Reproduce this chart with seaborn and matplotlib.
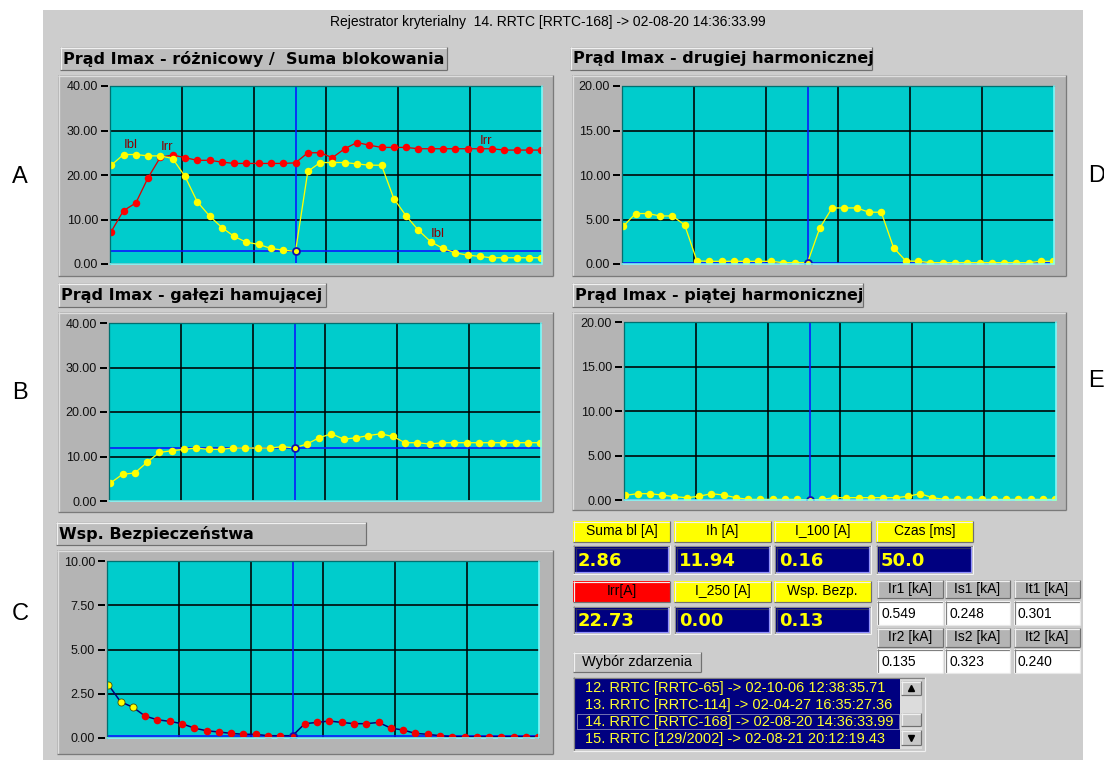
import matplotlib
matplotlib.use("Agg")
import matplotlib.pyplot as plt
from matplotlib.patches import Rectangle
import seaborn as sns

# ---------------------------------------------------------------- data
sample = list(range(36))
CURSOR = 15

suma_bl = [22.2, 24.6, 24.6, 24.3, 24.3, 23.7, 19.7, 14.0, 10.8, 8.2, 6.2, 4.9,
           4.4, 3.5, 3.1, 2.86, 20.8, 22.8, 22.8, 22.8, 22.5, 22.2, 22.2, 14.7,
           10.8, 7.6, 5.0, 3.5, 2.5, 2.0, 1.7, 1.4, 1.4, 1.4, 1.4, 1.4]
irr = [7.3, 12.0, 13.7, 19.4, 24.0, 24.5, 23.9, 23.3, 23.3, 22.9, 22.6, 22.6,
       22.6, 22.6, 22.6, 22.73, 25.0, 25.0, 23.9, 25.9, 27.3, 26.7, 26.2, 26.2,
       26.2, 25.9, 25.9, 25.9, 25.9, 25.9, 25.9, 25.9, 25.6, 25.6, 25.6, 25.6]
ih = [4.0, 6.0, 6.3, 8.7, 10.9, 11.3, 11.6, 11.9, 11.6, 11.6, 11.9, 11.9,
      11.9, 11.9, 12.2, 11.94, 12.8, 14.2, 15.1, 13.9, 14.2, 14.7, 15.1, 14.5,
      13.1, 13.1, 12.8, 13.1, 13.1, 13.1, 13.1, 13.1, 13.1, 13.1, 13.1, 13.1]
wsp = [3.02, 2.05, 1.74, 1.24, 1.03, 0.94, 0.81, 0.56, 0.41, 0.34, 0.26, 0.21,
       0.21, 0.13, 0.13, 0.13, 0.81, 0.88, 0.96, 0.88, 0.81, 0.81, 0.88, 0.56,
       0.45, 0.26, 0.21, 0.13, 0.08, 0.08, 0.08, 0.08, 0.08, 0.08, 0.08, 0.08]
h2 = [4.24, 5.67, 5.67, 5.40, 5.40, 4.39, 0.34, 0.30, 0.30, 0.30, 0.30, 0.30,
      0.30, 0.15, 0.15, 0.16, 4.05, 6.30, 6.30, 6.30, 5.82, 5.82, 1.84, 0.34,
      0.30, 0.15, 0.15, 0.15, 0.15, 0.15, 0.15, 0.15, 0.15, 0.15, 0.30, 0.30]
h5 = [0.52, 0.71, 0.71, 0.56, 0.37, 0.26, 0.41, 0.71, 0.56, 0.26, 0.07, 0.07,
      0.07, 0.07, 0.07, 0.00, 0.07, 0.26, 0.26, 0.26, 0.26, 0.26, 0.26, 0.41,
      0.71, 0.26, 0.07, 0.07, 0.07, 0.07, 0.07, 0.07, 0.07, 0.07, 0.07, 0.07]
WSP_LIMIT = 1.5
czas_ms = 50.0

phase1_labels = ["Ir1 [kA]", "Is1 [kA]", "It1 [kA]"]
phase1_values = [0.549, 0.248, 0.301]
phase2_labels = ["Ir2 [kA]", "Is2 [kA]", "It2 [kA]"]
phase2_values = [0.135, 0.323, 0.240]

events = ["12. RRTC [RRTC-65] -> 02-10-06 12:38:35.71",
          "13. RRTC [RRTC-114] -> 02-04-27 16:35:27.36",
          "14. RRTC [RRTC-168] -> 02-08-20 14:36:33.99",
          "15. RRTC [129/2002] -> 02-08-21 20:12:19.43"]
SELECTED = 2

# ---------------------------------------------------------------- style
W, H, DPI = 1104, 760, 100
PX = 72.0 / DPI  # one pixel in points

sns.set_theme(style="white")
plt.rcParams["font.family"] = ["Liberation Sans", "DejaVu Sans"]

WIN = "#cdcdcd"
FRAME = "#b4b4b4"
CYAN = "#00cccc"
NAVY = "#000080"
YEL = "#ffff00"
RED = "#ff0000"
BLUE = "#0a14ff"

fig = plt.figure(figsize=(W / DPI, H / DPI), dpi=DPI, facecolor="white")
ui = fig.add_axes([0, 0, 1, 1])
ui.set_xlim(0, W)
ui.set_ylim(H, 0)
ui.axis("off")


def fig_rect(x0, y0, x1, y1):
    return [x0 / W, 1 - y1 / H, (x1 - x0) / W, (y1 - y0) / H]


def box(x0, y0, x1, y1, face, z=1):
    ui.add_patch(Rectangle((x0, y0), x1 - x0, y1 - y0, facecolor=face,
                           edgecolor="none", linewidth=0, zorder=z))


def bevel(x0, y0, x1, y1, light, dark, w=1.0, z=2):
    kw = dict(lw=w * PX, zorder=z, solid_capstyle="butt")
    ui.plot([x0, x1], [y0 + 0.5, y0 + 0.5], color=light, **kw)
    ui.plot([x0 + 0.5, x0 + 0.5], [y0, y1], color=light, **kw)
    ui.plot([x0, x1], [y1 - 0.5, y1 - 0.5], color=dark, **kw)
    ui.plot([x1 - 0.5, x1 - 0.5], [y0, y1], color=dark, **kw)


def raised(x0, y0, x1, y1, face, z=1):
    box(x0, y0, x1, y1, face, z)
    bevel(x0, y0, x1, y1, "#f0f0f0", "#707070", 1.2, z + 1)


def label(x, y, s, size=10, color="black", ha="left", weight="normal", z=5, **kw):
    ui.text(x, y, s, fontsize=size, color=color, ha=ha, va="center",
            fontweight=weight, zorder=z, **kw)


# window background and side letters
box(43, 10, 1083, 760, WIN, 0)
for ch, x, y in [("A", 20, 177), ("B", 20, 393), ("C", 20, 614),
                 ("D", 1088, 176), ("E", 1088, 381)]:
    label(x, y, ch, size=17, ha="center" if x < 500 else "left")

label(548, 22, f"Rejestrator kryterialny  {events[SELECTED]}", size=10, ha="center",
      family=["Liberation Sans Narrow", "Liberation Sans", "DejaVu Sans"])

# ---------------------------------------------------------------- chart panels
XL = (-0.1, 35.06)


def panel(title, title_box, frame, plot, ymax, step):
    tx0, ty0, tx1, ty1 = title_box
    raised(tx0, ty0, tx1, ty1, "#bdbdbd")
    label(tx0 + 3, (ty0 + ty1) / 2 + 0.5, title, size=11.5, weight="bold",
          family=["DejaVu Sans"])
    fx0, fy0, fx1, fy1 = frame
    box(fx0, fy0, fx1, fy1, FRAME)
    bevel(fx0, fy0, fx1, fy1, "#dedede", "#7a7a7a", 1.3)

    px0, py0, px1, py1 = plot
    ax = fig.add_axes(fig_rect(*plot))
    ax.set_facecolor(CYAN)
    ax.set_xlim(*XL)
    ax.set_ylim(0, ymax)
    yt = [k * step for k in range(5)]
    ax.set_yticks(yt)
    ax.set_yticklabels([f"{v:.2f}" for v in yt])
    ax.set_xticks([XL[0] + k * (XL[1] - XL[0]) / 6 for k in range(1, 6)])
    ax.set_xticklabels([])
    ax.tick_params(axis="x", length=0, bottom=False)
    ax.tick_params(axis="y", length=0, pad=12 * PX, labelsize=9, labelcolor="#101010")
    ax.grid(True, color="black", lw=1.6 * PX)
    ax.set_axisbelow(True)
    for s in ax.spines.values():
        s.set_visible(False)
    ax.set_xlabel("")
    ax.set_ylabel("")
    # short dashes beside the value labels
    for v in yt:
        ypix = py1 - (v / ymax) * (py1 - py0)
        ui.plot([px0 - 9.5, px0 - 2.5], [ypix, ypix], color="black", lw=2.0 * PX,
                zorder=20, solid_capstyle="butt")
    tr = ax.transAxes
    ax.plot([0, 1], [1, 1], color="#007070", lw=1.3 * PX, transform=tr, clip_on=False, zorder=6)
    ax.plot([0, 0], [0, 1], color="#007070", lw=1.3 * PX, transform=tr, clip_on=False, zorder=6)
    ax.plot([0, 1], [0, 0], color="#7ffcfc", lw=1.6 * PX, transform=tr, clip_on=False, zorder=6)
    ax.plot([1, 1], [0, 1], color="#7ffcfc", lw=1.6 * PX, transform=tr, clip_on=False, zorder=6)
    return ax


def cursor(ax, value):
    ax.axvline(CURSOR, color=BLUE, lw=1.6 * PX, zorder=2)
    ax.axhline(value, color=BLUE, lw=1.6 * PX, zorder=2)


def series(ax, values, color, lcolor=None):
    sns.lineplot(x=sample, y=values, ax=ax, color=lcolor or color, lw=1.3 * PX,
                 marker="o", markersize=5.4, markeredgewidth=0,
                 markerfacecolor=color, zorder=3)


def cursor_dot(ax, value, face=YEL):
    ax.plot([CURSOR], [value], marker="o", ms=5, mfc=face, mec="#1010b0",
            mew=1.3, zorder=5, ls="none")


# A: differential current / blocking sum
axA = panel("Prąd Imax - różnicowy /  Suma blokowania", (60, 47, 447, 70),
            (58, 75, 553, 276), (110, 86, 542, 264), 40, 10)
cursor(axA, suma_bl[CURSOR])
series(axA, irr, RED, "#e00000")
series(axA, suma_bl, YEL)
cursor_dot(axA, suma_bl[CURSOR])
for txt, x, y in [("Ibl", 1.6, 26.7), ("Irr", 4.5, 26.2), ("Irr", 30.5, 27.7), ("Ibl", 26.6, 6.8)]:
    axA.text(x, y, txt, color="#8b0000", fontsize=9.5, ha="center", va="center", zorder=6)

# B: restraining current
axB = panel("Prąd Imax - gałęzi hamującej", (58, 283, 326, 307),
            (58, 312, 553, 512), (109, 323, 541, 501), 40, 10)
cursor(axB, ih[CURSOR])
series(axB, ih, YEL)
cursor_dot(axB, ih[CURSOR])

# C: safety factor
axC = panel("Wsp. Bezpieczeństwa", (56, 522, 366, 545),
            (57, 550, 553, 754), (107, 561, 539, 738), 10, 2.5)
cursor(axC, wsp[CURSOR])
sns.lineplot(x=sample, y=wsp, ax=axC, color="#00007a", lw=1.5 * PX, zorder=3)
hi = [i for i in sample if wsp[i] > WSP_LIMIT]
lo = [i for i in sample if wsp[i] <= WSP_LIMIT]
sns.scatterplot(x=hi, y=[wsp[i] for i in hi], ax=axC, color=YEL, s=26,
                edgecolor="#505000", linewidth=0.6, zorder=4)
sns.scatterplot(x=lo, y=[wsp[i] for i in lo], ax=axC, color="#f00000", s=30,
                linewidth=0, zorder=4)
cursor_dot(axC, wsp[CURSOR], face="#f00000")

# D: second harmonic
axD = panel("Prąd Imax - drugiej harmonicznej", (570, 47, 872, 70),
            (572, 75, 1066, 276), (622, 86, 1054, 264), 20, 5)
cursor(axD, h2[CURSOR])
series(axD, h2, YEL)
cursor_dot(axD, h2[CURSOR])

# E: fifth harmonic
axE = panel("Prąd Imax - piątej harmonicznej", (572, 283, 863, 307),
            (572, 312, 1066, 510), (624, 322, 1056, 500), 20, 5)
cursor(axE, h5[CURSOR])
series(axE, h5, YEL)
cursor_dot(axE, h5[CURSOR])

# ---------------------------------------------------------------- readouts
cols = [(573, 670), (674, 771), (774, 871), (876, 973)]


def readout(col, y_lab, y_val, text, value, face=YEL):
    x0, x1 = col
    raised(x0, y_lab[0], x1, y_lab[1], face)
    label((x0 + x1) / 2, (y_lab[0] + y_lab[1]) / 2, text, size=10, ha="center")
    box(x0, y_val[0], x1, y_val[1], "#c4c4c4")
    box(x0 + 2, y_val[0] + 2, x1 - 2, y_val[1] - 2, NAVY, 2)
    bevel(x0 + 2, y_val[0] + 2, x1 - 2, y_val[1] - 2, "#303060", "#9090ff", 1.2, 3)
    bevel(x0, y_val[0], x1, y_val[1], "#8a8a8a", "#f4f4f4", 1.0, 3)
    label(x0 + 5, (y_val[0] + y_val[1]) / 2 + 1, value, size=13, color=YEL,
          weight="bold", family=["DejaVu Sans"])


row1 = [("Suma bl [A]", f"{suma_bl[CURSOR]:.2f}", YEL), ("Ih [A]", f"{ih[CURSOR]:.2f}", YEL),
        ("I_100 [A]", f"{h2[CURSOR]:.2f}", YEL), ("Czas [ms]", f"{czas_ms:.1f}", YEL)]
row2 = [("Irr[A]", f"{irr[CURSOR]:.2f}", RED), ("I_250 [A]", f"{h5[CURSOR]:.2f}", YEL),
        ("Wsp. Bezp.", f"{wsp[CURSOR]:.2f}", YEL)]
for col, (t, v, f) in zip(cols, row1):
    readout(col, (521, 542), (545, 574), t, v, f)
for col, (t, v, f) in zip(cols, row2):
    readout(col, (581, 602), (606, 634), t, v, f)

pcols = [(877, 943), (945, 1010), (1014, 1080)]


def phase_row(labels, values, y_lab, y_val):
    for (x0, x1), t, v in zip(pcols, labels, values):
        raised(x0, y_lab[0], x1, y_lab[1], "#b4b4b4")
        label((x0 + x1) / 2, (y_lab[0] + y_lab[1]) / 2, t, size=10, ha="center")
        box(x0, y_val[0], x1, y_val[1], "white")
        bevel(x0, y_val[0], x1, y_val[1], "#808080", "#e8e8e8", 1.2, 3)
        label(x0 + 4, (y_val[0] + y_val[1]) / 2 + 0.5, f"{v:.3f}", size=10)


phase_row(phase1_labels, phase1_values, (580, 598), (601, 625))
phase_row(phase2_labels, phase2_values, (628, 647), (649, 673))

# event selection button and list
raised(573, 652, 701, 672, "#c4c4c4")
label(637, 662, "Wybór zdarzenia", size=10.5, ha="center")

box(573, 677, 925, 751, "#c8c8c8")
box(575, 679, 900, 749, NAVY, 2)
bevel(573, 677, 925, 751, "#808080", "#f0f0f0", 1.2, 3)
line_y = [688, 705, 722, 739]
for ev, y in zip(events, line_y):
    label(585, y, ev, size=10.5, color="#ffff30")
ui.add_patch(Rectangle((577, 714), 322, 15, facecolor="none", edgecolor="#e0e0e0",
                       lw=1 * PX, ls=(0, (1, 1)), zorder=6))
# scroll bar
box(900, 679, 922, 749, "#dcdcdc", 2)
for (y0, y1) in [(681, 695), (713, 726), (730, 745)]:
    raised(901, y0, 921, y1, "#c8c8c8", 3)
ui.plot([911], [688], marker="^", ms=4, color="black", zorder=6)
ui.plot([911], [737.5], marker="v", ms=4, color="black", zorder=6)

fig.savefig("out.png", dpi=DPI, facecolor="white")
